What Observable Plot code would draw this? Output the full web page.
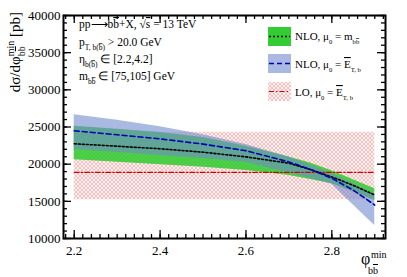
<!DOCTYPE html>
<html><head><meta charset="utf-8">
<script src="https://cdn.jsdelivr.net/npm/d3@7"></script>
<script src="https://cdn.jsdelivr.net/npm/@observablehq/plot@0.6"></script>
<style>body{margin:0;background:#fff} svg{display:block} svg text{font-family:"Liberation Serif","Times New Roman",Times,serif !important;}</style>
</head><body><div id="chart"></div>
<script>
// phi_bb^min values
const phi = [2.2, 2.3, 2.4, 2.5, 2.6, 2.7, 2.75, 2.8, 2.85, 2.9];
// NLO, mu0 = m_bb
const nloMbbCentral = [22740, 22420, 22070, 21610, 20980, 20130, 19280, 18280, 17150, 15850];
const nloMbbUp      = [25110, 24700, 24250, 23600, 22400, 20950, 20150, 19100, 17900, 16700];
const nloMbbDown    = [20590, 20250, 19910, 19590, 19150, 18470, 17950, 17350, 16300, 15110];
// NLO, mu0 = E_T,b
const nloEtCentral  = [24490, 23950, 23400, 22700, 21800, 20300, 19300, 18100, 16500, 14500];
const nloEtUp       = [26640, 25900, 25050, 23950, 22650, 20950, 19900, 18700, 17350, 16000];
const nloEtDown     = [21970, 21570, 21160, 20750, 20250, 18800, 18100, 17300, 14500, 11750];
// LO, mu0 = E_T,b
const loCentral     = [18900, 18900, 18900, 18900, 18900, 18900, 18900, 18900, 18900, 18900];
const loUp          = [24300, 24300, 24300, 24300, 24300, 24300, 24300, 24300, 24300, 24300];
const loDown        = [15200, 15200, 15200, 15200, 15200, 15200, 15200, 15200, 15200, 15200];

const yMajor = [10000, 15000, 20000, 25000, 30000, 35000, 40000];
const yMinor = d3.range(10000, 40001, 1000);
const xMajor = [2.2, 2.4, 2.6, 2.8];
const xMinor = d3.range(2.18, 2.921, 0.02).map(v => +v.toFixed(2));

const rows = phi.map((p, i) => ({
  phi: p,
  mbbC: nloMbbCentral[i], mbbUp: nloMbbUp[i], mbbDn: nloMbbDown[i],
  etC: nloEtCentral[i], etUp: nloEtUp[i], etDn: nloEtDown[i],
  loC: loCentral[i], loUp: loUp[i], loDn: loDown[i]
}));

const W = 407, H = 277, ML = 63, MR = 22, MT = 15, MB = 39;
const FW = W - ML - MR, FH = H - MT - MB;
const GREEN = "#33cc33";
const BLUE = "rgb(112,138,205)";
const FONT = "Liberation Serif";
const tk = {stroke: "black", strokeWidth: 1.3};

const plot = Plot.plot({
  width: W, height: H,
  marginLeft: ML, marginRight: MR, marginTop: MT, marginBottom: MB,
  style: {fontFamily: FONT, fontSize: "13px", color: "black", background: "white"},
  x: {domain: [2.175, 2.925], label: null},
  y: {domain: [10000, 40000], label: null},
  marks: [
    Plot.areaY(rows, {x: "phi", y1: "loDn", y2: "loUp", fill: "url(#hatch)"}),
    Plot.areaY(rows, {x: "phi", y1: "mbbDn", y2: "mbbUp", fill: GREEN, fillOpacity: 0.88}),
    Plot.areaY(rows, {x: "phi", y1: "etDn", y2: "etUp", fill: BLUE, fillOpacity: 0.6}),
    Plot.line(rows, {x: "phi", y: "loC", stroke: "#d00000", strokeWidth: 1.2, strokeDasharray: "5,2,1.5,2"}),
    Plot.line(rows, {x: "phi", y: "mbbC", stroke: "black", strokeWidth: 1.6, strokeDasharray: "2,2"}),
    Plot.line(rows, {x: "phi", y: "etC", stroke: "#0000b0", strokeWidth: 1.6, strokeDasharray: "5,3"}),
    // tick labels
    Plot.axisY(yMajor, {anchor: "left", tickSize: 0, tickPadding: 3, tickFormat: d => String(d), fontSize: 13, fontFamily: FONT, label: null}),
    Plot.axisX(xMajor, {anchor: "bottom", tickSize: 0, tickPadding: 7, tickFormat: d => d.toFixed(1), fontSize: 13, fontFamily: FONT, label: null}),
    // inward ticks (left/right)
    Plot.ruleY(yMajor, {y: d => d, insetRight: FW - 8, ...tk}),
    Plot.ruleY(yMinor, {y: d => d, insetRight: FW - 4, ...tk}),
    Plot.ruleY(yMajor, {y: d => d, insetLeft: FW - 8, ...tk}),
    Plot.ruleY(yMinor, {y: d => d, insetLeft: FW - 4, ...tk}),
    // inward ticks (bottom/top)
    Plot.ruleX(xMajor, {x: d => d, insetTop: FH - 8, ...tk}),
    Plot.ruleX(xMinor, {x: d => d, insetTop: FH - 4, ...tk}),
    Plot.ruleX(xMajor, {x: d => d, insetBottom: FH - 8, ...tk}),
    Plot.ruleX(xMinor, {x: d => d, insetBottom: FH - 4, ...tk}),
    Plot.frame({stroke: "black", strokeWidth: 2})
  ]
});
document.getElementById("chart").appendChild(plot);

const svg = d3.select(plot);
const defs = svg.insert("defs", ":first-child");
const pat = defs.append("pattern").attr("id", "hatch").attr("patternUnits", "userSpaceOnUse")
  .attr("width", 4).attr("height", 4);
pat.append("rect").attr("width", 4).attr("height", 4).attr("fill", "#ffdede").attr("fill-opacity", 0.35);
pat.append("path").attr("d", "M0,0L4,4M0,4L4,0").attr("stroke", "#ff7070").attr("stroke-opacity", 0.6)
  .attr("stroke-width", 0.7).attr("fill", "none");

// rich text helper: parts {t, sub, sup, over}
function rich(g, x, y, parts, size, subScale = 0.65) {
  const t = g.append("text").attr("x", x).attr("y", y).attr("font-size", size)
    .style("font-family", FONT).attr("fill", "black").attr("text-anchor", "start");
  let cur = 0;
  for (const p of parts) {
    const s = t.append("tspan").text(p.t);
    let target = 0, fs = size;
    if (p.sub) { target = size * 0.38; fs = size * subScale; }
    if (p.sup) { target = -size * 0.42; fs = size * subScale; }
    s.attr("font-size", fs);
    const dy = target - cur;
    if (dy) s.attr("dy", dy);
    cur = target;
    if (p.over) s.style("text-decoration", "overline");
  }
  return t;
}

const ann = svg.append("g");
rich(ann, 79, 28, [{t: "pp"}, {t: "⟶"}, {t: "b"}, {t: "b", over: true}, {t: "+X, √"}, {t: "s", over: true}, {t: " = 13 TeV"}], 11.5);
rich(ann, 79, 46, [{t: "p"}, {t: "T, b(", sub: true}, {t: "b", sub: true, over: true}, {t: ")", sub: true}, {t: " > 20.0 GeV"}], 11.5);
rich(ann, 79, 63, [{t: "η"}, {t: "b(", sub: true}, {t: "b", sub: true, over: true}, {t: ")", sub: true}, {t: " ∈ [2.2,4.2]"}], 11.5);
rich(ann, 79, 80, [{t: "m"}, {t: "b", sub: true}, {t: "b", sub: true, over: true}, {t: " ∈ [75,105] GeV"}], 11.5);

// legend
const leg = svg.append("g");
const lx = 268, lw = 23, lh = 19;
leg.append("rect").attr("x", lx).attr("y", 27).attr("width", lw).attr("height", lh).attr("fill", GREEN);
leg.append("line").attr("x1", lx + 1).attr("x2", lx + lw - 1).attr("y1", 36.5).attr("y2", 36.5)
  .attr("stroke", "black").attr("stroke-width", 1.6).attr("stroke-dasharray", "2,2");
leg.append("rect").attr("x", lx).attr("y", 54).attr("width", lw).attr("height", lh).attr("fill", BLUE).attr("fill-opacity", 0.6);
leg.append("line").attr("x1", lx + 1).attr("x2", lx + lw - 1).attr("y1", 63.5).attr("y2", 63.5)
  .attr("stroke", "#0000b0").attr("stroke-width", 1.6).attr("stroke-dasharray", "5,3");
leg.append("rect").attr("x", lx).attr("y", 82).attr("width", lw).attr("height", lh).attr("fill", "url(#hatch)");
leg.append("line").attr("x1", lx + 1).attr("x2", lx + lw - 1).attr("y1", 91.5).attr("y2", 91.5)
  .attr("stroke", "#d00000").attr("stroke-width", 1.2).attr("stroke-dasharray", "5,2,1.5,2");
rich(leg, 295, 40, [{t: "NLO, μ"}, {t: "0", sub: true}, {t: " = m"}, {t: "b", sub: true}, {t: "b", sub: true, over: true}], 11, 0.6);
rich(leg, 295, 68, [{t: "NLO, μ"}, {t: "0", sub: true}, {t: " = "}, {t: "E", over: true}, {t: "T, b", sub: true}], 11, 0.6);
rich(leg, 295, 96, [{t: "LO, μ"}, {t: "0", sub: true}, {t: " = "}, {t: "E", over: true}, {t: "T, b", sub: true}], 11, 0.6);

// Y axis title (rotated), stacked sup/sub
const yt = svg.append("text").attr("transform", "translate(20,12) rotate(-90)")
  .attr("text-anchor", "end").style("font-family", FONT).attr("font-size", 15).attr("fill", "black");
yt.append("tspan").text("dσ/dφ");
const ySup = yt.append("tspan").text("min").attr("font-size", 10).attr("dy", -6);
const ySub = yt.append("tspan").attr("font-size", 10).attr("dy", 11);
ySub.append("tspan").text("b");
ySub.append("tspan").text("b").style("text-decoration", "overline");
const supW = ySup.node().getComputedTextLength(), subW = ySub.node().getComputedTextLength();
ySub.attr("dx", -supW);
yt.append("tspan").text(" [pb]").attr("dy", -5).attr("dx", Math.max(0, supW - subW));

// X axis title: φ with stacked min / bb̄
const xg = svg.append("g").attr("fill", "black").attr("text-anchor", "start").style("font-family", FONT);
xg.append("text").attr("x", 361).attr("y", 264).attr("font-size", 16).text("φ");
xg.append("text").attr("x", 371).attr("y", 258).attr("font-size", 10).text("min");
const xs = xg.append("text").attr("x", 368).attr("y", 274).attr("font-size", 10);
xs.append("tspan").text("b");
xs.append("tspan").text("b").style("text-decoration", "overline");
</script>
</body></html>
